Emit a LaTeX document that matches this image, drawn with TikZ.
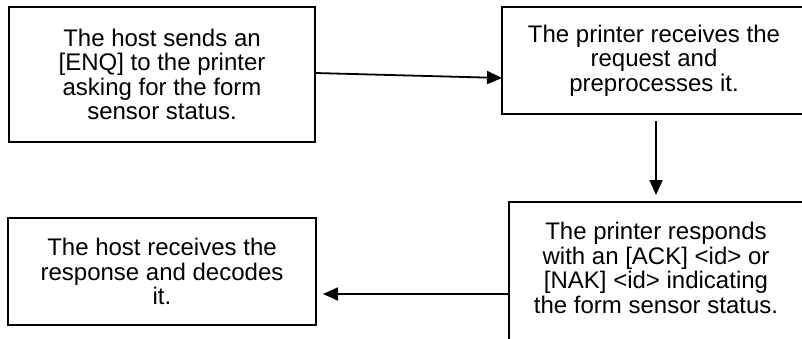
\documentclass[tikz,border=0pt]{standalone}
\usepackage{fontspec}
\setmainfont{Liberation Sans}
\usetikzlibrary{arrows.meta,calc}
\begin{document}
\begin{tikzpicture}[x=1pt,y=1pt,
  box/.style={draw=black, line width=1.8pt, rectangle, outer sep=0pt, inner sep=0pt,
    align=center, font=\fontsize{24}{24.5}\selectfont},
  txt/.style={align=center, inner sep=0pt, font=\fontsize{24}{24.5}\selectfont},
  conn/.style={draw=black, line width=1.8pt, -{Triangle[length=15pt,width=13pt]}}]
\useasboundingbox (0,0) rectangle (802,-339);
\clip (0,0) rectangle (802,-339);
\fill[white] (0,0) rectangle (802,-339);

\node[box, minimum width=306pt, minimum height=135pt] (b1) at (162,-74.5)
  {The host sends an\\{}[ENQ] to the printer\\ asking for the form\\ sensor status.};
\node[box, minimum width=304pt, minimum height=107pt] (b2) at (654,-60.5)
  {The printer receives the\\ request and\\ preprocesses it.};
\node[box, minimum width=294pt, minimum height=143pt] (b3) at (656,-273.5) {};
\node[txt] (t3) at (656,-268) {The printer responds\\ with an [ACK] <id> or\\{}[NAK] <id> indicating\\ the form sensor status.};
\node[box, minimum width=308pt, minimum height=107pt] (b4) at (162,-271.5)
  {The host receives the\\ response and decodes\\ it.};

\coordinate (e1) at ($(b2.south west)+(0,36)$);
\draw[conn] ([yshift=1.5pt]b1.east) -- (e1);
\draw[conn] ([yshift=-7pt]b3.north |- b2.south) -- ([yshift=7pt]b3.north);
\coordinate (s3) at ($(b3.north west)+(0,-92)$);
\draw[conn] (s3) -- ([xshift=7pt]b4.east |- s3);
\end{tikzpicture}
\end{document}
